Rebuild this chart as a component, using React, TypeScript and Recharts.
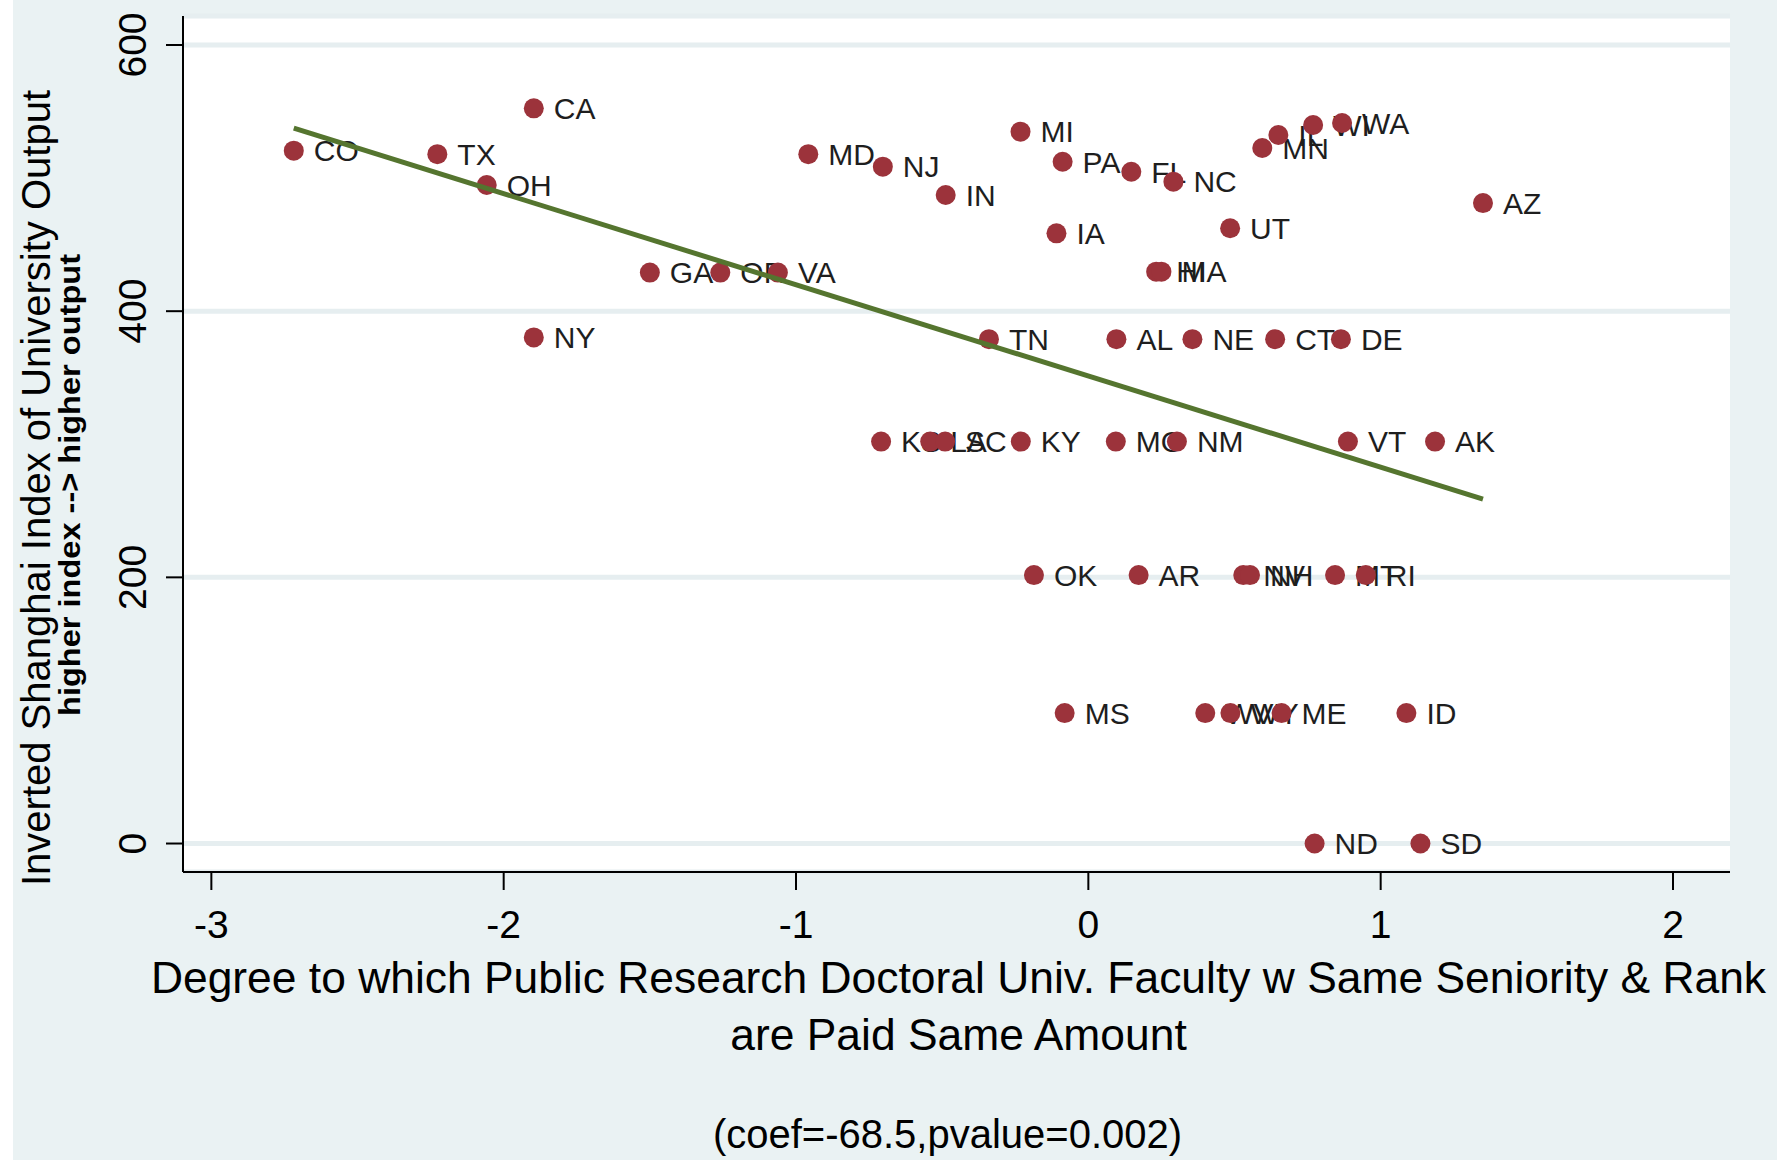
import { ScatterChart, Scatter, XAxis, YAxis, CartesianGrid } from 'recharts'

const states = [
  'CO', 'TX', 'CA', 'OH', 'NY', 'GA', 'OR', 'VA', 'MD', 'NJ',
  'IN', 'MI', 'PA', 'FL', 'NC', 'IA', 'HI', 'MA', 'UT', 'AZ',
  'MN', 'IL', 'WI', 'WA', 'TN', 'AL', 'NE', 'CT', 'DE', 'KS',
  'LA', 'SC', 'KY', 'MO', 'NM', 'VT', 'AK', 'OK', 'AR', 'NV',
  'NH', 'MT', 'RI', 'MS', 'WV', 'WY', 'ME', 'ID', 'ND', 'SD',
]

// degree to which same seniority & rank are paid the same
const payEquality = [
  -2.718, -2.227, -1.897, -2.058, -1.897, -1.5, -1.259, -1.062, -0.958, -0.703,
  -0.488, -0.232, -0.088, 0.147, 0.291, -0.109, 0.232, 0.25, 0.485, 1.35,
  0.595, 0.65, 0.769, 0.868, -0.34, 0.096, 0.356, 0.639, 0.864, -0.709,
  -0.541, -0.49, -0.231, 0.094, 0.303, 0.888, 1.186, -0.186, 0.172, 0.53,
  0.553, 0.844, 0.949, -0.081, 0.4, 0.486, 0.661, 1.088, 0.774, 1.136,
]

// inverted Shanghai index
const shanghai = [
  520.6, 518, 552.4, 494.8, 380.3, 429, 429, 429, 518, 508.6,
  487.3, 534.9, 512.3, 504.8, 497.3, 458.5, 429.7, 429.7, 462.3, 481.2,
  522.6, 532.4, 539.9, 541.4, 379, 379, 379, 379, 379, 302,
  302, 302, 302, 302, 302, 302, 302, 201.7, 201.7, 201.7,
  201.7, 201.7, 201.7, 98, 98, 98, 98, 98, 0, 0,
]

const fitX = [-2.718, 1.35]
const fitY = [537.5, 258.8]

const xTicks = [-3, -2, -1, 0, 1, 2]
const yTicks = [0, 200, 400, 600]

const points = states.map((state, i) => ({ state, x: payEquality[i], y: shanghai[i] }))
const fitLine = fitX.map((x, i) => ({ x, y: fitY[i] }))

const BG = '#eaf2f3'
const GRID = '#e6eef0'
const DOT = '#9c333b'
const LINE = '#55752f'
const FONT = '"Liberation Sans", Arial, sans-serif'

function StateLabel(props: any) {
  const { cx, cy, payload } = props
  return (
    <text x={cx + 20} y={cy} dy="0.36em" fontSize={30} fill="#1e1e1e" fontFamily={FONT}>
      {payload.state}
    </text>
  )
}

function StateDot(props: any) {
  const { cx, cy } = props
  return <circle cx={cx} cy={cy} r={10} fill={DOT} />
}

function YTick(props: any) {
  const { x, y, payload } = props
  const bx = x - 18
  return (
    <text
      x={bx}
      y={y}
      transform={`rotate(-90, ${bx}, ${y})`}
      textAnchor="middle"
      fontSize={39}
      fill="#000"
      fontFamily={FONT}
    >
      {payload.value}
    </text>
  )
}

function XTitle(props: any) {
  const { viewBox } = props
  const cx = viewBox.x + viewBox.width / 2
  return (
    <g fontFamily={FONT} fill="#000" textAnchor="middle">
      <text x={cx + 2} y={993} fontSize={44.4}>
        Degree to which Public Research Doctoral Univ. Faculty w Same Seniority &amp; Rank
      </text>
      <text x={cx + 2} y={1050} fontSize={44.4}>
        are Paid Same Amount
      </text>
      <text x={cx - 9} y={1148} fontSize={40}>
        (coef=-68.5,pvalue=0.002)
      </text>
    </g>
  )
}

function YTitle() {
  return (
    <g fontFamily={FONT} fill="#000" textAnchor="middle">
      <text x={50} y={488} transform="rotate(-90, 50, 488)" fontSize={40}>
        Inverted Shanghai Index of University Output
      </text>
      <text
        x={80}
        y={485}
        transform="rotate(-90, 80, 485)"
        fontSize={30}
        fontWeight="bold"
        textLength={462}
        lengthAdjust="spacingAndGlyphs"
      >
        higher index --&gt; higher output
      </text>
    </g>
  )
}

export default function App() {
  return (
    <div
      style={{
        position: 'absolute',
        left: 0,
        top: 0,
        width: 1789,
        height: 1160,
        background: '#fff',
        fontFamily: FONT,
      }}
    >
      <div style={{ position: 'absolute', left: 13, top: 0, width: 1764, height: 1160, background: BG }} />
      <div style={{ position: 'absolute', left: 0, top: 0 }}>
        <ScatterChart width={1789} height={1160} margin={{ top: 16, right: 59, bottom: 228, left: 0 }}>
          <CartesianGrid vertical={false} stroke={GRID} strokeWidth={5} fill="#fff" />
          <XAxis
            type="number"
            dataKey="x"
            domain={[-3.097, 2.195]}
            allowDataOverflow
            ticks={xTicks}
            height={60}
            axisLine={{ stroke: '#000', strokeWidth: 2 }}
            tickLine={{ stroke: '#000', strokeWidth: 2 }}
            tickSize={18}
            tickMargin={20}
            tick={{ fontSize: 39, fill: '#000', fontFamily: FONT }}
            label={(p: any) => <XTitle {...p} />}
          />
          <YAxis
            type="number"
            dataKey="y"
            domain={[-21.4, 621.8]}
            allowDataOverflow
            ticks={yTicks}
            width={183}
            axisLine={{ stroke: '#000', strokeWidth: 2 }}
            tickLine={{ stroke: '#000', strokeWidth: 2 }}
            tickSize={17}
            tick={<YTick />}
            label={() => <YTitle />}
          />
          <Scatter data={points} shape={<StateLabel />} isAnimationActive={false} />
          <Scatter data={points} shape={<StateDot />} isAnimationActive={false} />
          <Scatter
            data={fitLine}
            line={{ stroke: LINE, strokeWidth: 5 }}
            shape={() => <g />}
            isAnimationActive={false}
          />
        </ScatterChart>
      </div>
    </div>
  )
}
